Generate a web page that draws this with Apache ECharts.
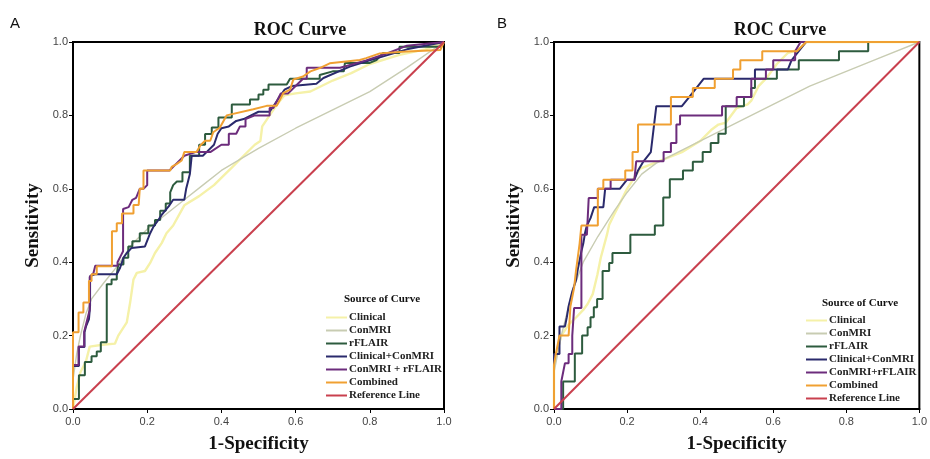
<!DOCTYPE html>
<html>
<head>
<meta charset="utf-8">
<script src="https://cdn.jsdelivr.net/npm/echarts@6/dist/echarts.min.js"></script>
<style>
  html, body { margin: 0; padding: 0; background: #fff; }
  #chart { width: 930px; height: 459px; }
</style>
</head>
<body>
<div id="chart"></div>
<script>
// series names, shared by both panels
var curveNames = ['Clinical', 'ConMRI', 'rFLAIR', 'Clinical+ConMRI', 'ConMRI+rFLAIR', 'Combined', 'Reference Line'];
var legendLabelsA = ['Clinical', 'ConMRI', 'rFLAIR', 'Clinical+ConMRI', 'ConMRI + rFLAIR', 'Combined', 'Reference Line'];
var curveColors = ['#f5f1a8', '#c8ccb2', '#2d5b3e', '#2a2a6c', '#6c2c7c', '#f0a032', '#c9404e'];
var curveWidths = [2.4, 1.4, 2, 2, 2, 2, 2];

/* ---- panel A : [1-specificity, sensitivity] ---- */
var aClinical = [[0,0],[0.01,0.06],[0.02,0.1],[0.035,0.13],[0.045,0.17],[0.08,0.175],[0.113,0.178],[0.122,0.2],[0.145,0.236],[0.154,0.29],[0.163,0.353],[0.172,0.371],[0.194,0.376],[0.208,0.398],[0.221,0.425],[0.239,0.452],[0.252,0.479],[0.27,0.5],[0.3,0.555],[0.34,0.58],[0.38,0.61],[0.41,0.64],[0.43,0.66],[0.46,0.69],[0.49,0.72],[0.505,0.73],[0.51,0.77],[0.53,0.8],[0.55,0.83],[0.57,0.855],[0.6,0.86],[0.64,0.865],[0.67,0.88],[0.7,0.895],[0.75,0.915],[0.8,0.94],[0.88,0.965],[0.95,0.98],[1,1]];
var aConMRI = [[0,0],[0,0.08],[0.01,0.15],[0.02,0.2],[0.035,0.26],[0.05,0.3],[0.08,0.34],[0.12,0.39],[0.16,0.45],[0.2,0.49],[0.25,0.53],[0.3,0.57],[0.35,0.61],[0.4,0.65],[0.5,0.71],[0.6,0.765],[0.7,0.815],[0.8,0.865],[0.9,0.93],[1,1]];
var aFlair = [[0,0],[0,0.027],[0.016,0.027],[0.016,0.092],[0.032,0.092],[0.032,0.128],[0.05,0.128],[0.05,0.144],[0.064,0.144],[0.064,0.157],[0.075,0.157],[0.075,0.182],[0.091,0.182],[0.091,0.34],[0.104,0.34],[0.104,0.353],[0.118,0.353],[0.118,0.367],[0.122,0.367],[0.122,0.394],[0.136,0.394],[0.136,0.412],[0.149,0.412],[0.149,0.443],[0.16,0.443],[0.16,0.457],[0.18,0.457],[0.18,0.479],[0.203,0.479],[0.203,0.5],[0.221,0.5],[0.221,0.515],[0.235,0.515],[0.235,0.54],[0.25,0.54],[0.25,0.56],[0.262,0.56],[0.262,0.59],[0.27,0.61],[0.28,0.62],[0.295,0.62],[0.295,0.645],[0.315,0.645],[0.315,0.69],[0.34,0.69],[0.34,0.72],[0.356,0.72],[0.356,0.749],[0.374,0.749],[0.374,0.767],[0.392,0.767],[0.392,0.794],[0.428,0.794],[0.428,0.83],[0.477,0.83],[0.477,0.843],[0.5,0.843],[0.5,0.857],[0.513,0.857],[0.513,0.87],[0.527,0.87],[0.527,0.884],[0.576,0.884],[0.585,0.9],[0.665,0.9],[0.665,0.91],[0.7,0.92],[0.73,0.92],[0.733,0.943],[0.8,0.943],[0.818,0.951],[0.836,0.97],[0.88,0.97],[0.88,0.987],[0.99,0.987],[1,1]];
var aClinConMRI = [[0,0],[0,0.117],[0.016,0.117],[0.016,0.169],[0.031,0.169],[0.031,0.209],[0.035,0.225],[0.043,0.245],[0.046,0.281],[0.046,0.362],[0.059,0.367],[0.118,0.367],[0.127,0.385],[0.136,0.412],[0.145,0.425],[0.158,0.439],[0.194,0.443],[0.203,0.466],[0.208,0.479],[0.217,0.497],[0.23,0.515],[0.239,0.529],[0.26,0.555],[0.27,0.57],[0.3,0.57],[0.305,0.6],[0.31,0.62],[0.315,0.64],[0.32,0.69],[0.35,0.69],[0.36,0.7],[0.38,0.72],[0.39,0.75],[0.4,0.765],[0.42,0.77],[0.44,0.785],[0.46,0.79],[0.48,0.8],[0.5,0.81],[0.53,0.81],[0.55,0.84],[0.57,0.87],[0.59,0.88],[0.656,0.886],[0.675,0.902],[0.746,0.933],[0.8,0.95],[0.85,0.965],[0.9,0.98],[1,1]];
var aConFlair = [[0,0],[0,0.12],[0.015,0.12],[0.015,0.17],[0.03,0.17],[0.03,0.21],[0.04,0.25],[0.045,0.27],[0.045,0.36],[0.055,0.37],[0.06,0.39],[0.12,0.39],[0.12,0.4],[0.13,0.42],[0.135,0.43],[0.135,0.545],[0.15,0.55],[0.16,0.57],[0.17,0.575],[0.18,0.6],[0.19,0.6],[0.2,0.61],[0.2,0.65],[0.26,0.65],[0.27,0.66],[0.28,0.67],[0.29,0.68],[0.3,0.69],[0.33,0.7],[0.37,0.7],[0.4,0.72],[0.42,0.72],[0.42,0.75],[0.44,0.75],[0.45,0.77],[0.465,0.77],[0.465,0.79],[0.49,0.8],[0.53,0.8],[0.53,0.82],[0.54,0.82],[0.55,0.84],[0.56,0.86],[0.58,0.86],[0.6,0.88],[0.62,0.9],[0.63,0.9],[0.63,0.93],[0.72,0.93],[0.79,0.95],[0.85,0.97],[0.9,0.99],[1,1]];
var aCombined = [[0,0],[0,0.209],[0.015,0.209],[0.015,0.263],[0.028,0.263],[0.028,0.29],[0.043,0.29],[0.043,0.349],[0.05,0.349],[0.05,0.367],[0.064,0.367],[0.064,0.389],[0.105,0.389],[0.105,0.484],[0.118,0.484],[0.118,0.506],[0.132,0.506],[0.132,0.533],[0.163,0.533],[0.163,0.556],[0.177,0.556],[0.18,0.6],[0.19,0.6],[0.19,0.65],[0.262,0.65],[0.266,0.66],[0.28,0.668],[0.293,0.677],[0.3,0.7],[0.333,0.7],[0.343,0.718],[0.356,0.731],[0.37,0.731],[0.378,0.754],[0.396,0.767],[0.414,0.8],[0.486,0.817],[0.522,0.826],[0.549,0.826],[0.558,0.843],[0.567,0.861],[0.585,0.87],[0.594,0.898],[0.62,0.906],[0.64,0.92],[0.665,0.929],[0.692,0.942],[0.773,0.951],[0.79,0.956],[0.827,0.969],[0.9,0.974],[0.99,0.978],[1,1]];

/* ---- panel B ---- */
var bClinical = [[0,0],[0,0.12],[0.003,0.133],[0.012,0.17],[0.02,0.2],[0.04,0.23],[0.061,0.25],[0.08,0.27],[0.092,0.286],[0.106,0.313],[0.119,0.367],[0.128,0.412],[0.145,0.475],[0.151,0.502],[0.164,0.529],[0.178,0.556],[0.2,0.6],[0.218,0.628],[0.236,0.655],[0.3,0.68],[0.35,0.7],[0.4,0.73],[0.43,0.76],[0.45,0.775],[0.47,0.78],[0.5,0.82],[0.53,0.83],[0.54,0.84],[0.56,0.88],[0.58,0.9],[0.61,0.94],[0.64,0.97],[0.67,0.98],[0.69,1],[1,1]];
var bConMRI = [[0,0],[0,0.1],[0.02,0.2],[0.05,0.32],[0.08,0.4],[0.12,0.47],[0.165,0.54],[0.2,0.59],[0.24,0.64],[0.28,0.67],[0.36,0.71],[0.48,0.77],[0.6,0.83],[0.7,0.88],[0.8,0.92],[0.9,0.96],[1,1]];
var bFlair = [[0,0],[0.025,0],[0.025,0.075],[0.057,0.075],[0.057,0.151],[0.077,0.151],[0.077,0.2],[0.092,0.2],[0.092,0.223],[0.1,0.223],[0.1,0.25],[0.109,0.25],[0.109,0.277],[0.118,0.277],[0.118,0.3],[0.133,0.3],[0.133,0.376],[0.151,0.376],[0.151,0.398],[0.16,0.398],[0.16,0.425],[0.209,0.425],[0.209,0.475],[0.276,0.475],[0.276,0.5],[0.299,0.5],[0.299,0.576],[0.317,0.576],[0.317,0.626],[0.353,0.626],[0.353,0.65],[0.38,0.65],[0.38,0.674],[0.407,0.674],[0.407,0.7],[0.429,0.7],[0.429,0.725],[0.45,0.725],[0.45,0.75],[0.47,0.75],[0.47,0.825],[0.52,0.825],[0.52,0.85],[0.54,0.85],[0.54,0.875],[0.55,0.875],[0.55,0.9],[0.61,0.9],[0.61,0.925],[0.67,0.925],[0.67,0.95],[0.78,0.95],[0.78,0.975],[0.86,0.975],[0.86,1],[1,1]];
var bClinConMRI = [[0,0],[0,0.15],[0.015,0.15],[0.015,0.225],[0.03,0.225],[0.035,0.25],[0.04,0.28],[0.05,0.32],[0.06,0.35],[0.065,0.38],[0.075,0.43],[0.08,0.45],[0.085,0.48],[0.09,0.5],[0.1,0.52],[0.105,0.525],[0.11,0.55],[0.135,0.55],[0.14,0.6],[0.18,0.6],[0.2,0.625],[0.22,0.625],[0.23,0.65],[0.245,0.675],[0.265,0.7],[0.28,0.825],[0.35,0.825],[0.37,0.85],[0.39,0.875],[0.41,0.9],[0.55,0.9],[0.55,0.925],[0.64,0.925],[0.65,0.95],[0.67,0.975],[0.69,1],[1,1]];
var bConFlair = [[0,0],[0.02,0],[0.02,0.075],[0.025,0.1],[0.03,0.125],[0.04,0.125],[0.04,0.15],[0.05,0.15],[0.05,0.2],[0.055,0.2],[0.055,0.275],[0.075,0.275],[0.075,0.475],[0.09,0.475],[0.095,0.575],[0.12,0.575],[0.12,0.6],[0.155,0.6],[0.155,0.625],[0.22,0.625],[0.225,0.675],[0.3,0.675],[0.3,0.7],[0.32,0.7],[0.32,0.725],[0.335,0.725],[0.335,0.775],[0.345,0.775],[0.345,0.8],[0.46,0.8],[0.46,0.825],[0.5,0.825],[0.5,0.85],[0.54,0.85],[0.54,0.9],[0.58,0.9],[0.58,0.925],[0.6,0.925],[0.6,0.95],[0.66,0.95],[0.66,0.975],[0.675,1],[1,1]];
var bCombined = [[0,0],[0,0.12],[0.005,0.15],[0.01,0.15],[0.015,0.2],[0.04,0.2],[0.045,0.28],[0.055,0.33],[0.06,0.375],[0.07,0.45],[0.075,0.5],[0.12,0.5],[0.12,0.6],[0.135,0.6],[0.135,0.625],[0.195,0.625],[0.195,0.65],[0.215,0.65],[0.215,0.7],[0.23,0.7],[0.23,0.775],[0.32,0.775],[0.32,0.85],[0.38,0.85],[0.38,0.875],[0.44,0.875],[0.44,0.9],[0.49,0.9],[0.49,0.925],[0.51,0.925],[0.51,0.95],[0.57,0.95],[0.57,0.975],[0.665,0.975],[0.69,1],[1,1]];

var referenceLine = [[0,0],[1,1]];

var panelA = [aClinical, aConMRI, aFlair, aClinConMRI, aConFlair, aCombined, referenceLine];
var panelB = [bClinical, bConMRI, bFlair, bClinConMRI, bConFlair, bCombined, referenceLine];

var serif = 'Liberation Serif';
var sans = 'Liberation Sans';

var chart = echarts.init(document.getElementById('chart'));

function axisPair(idx) {
    var common = {
        type: 'value', min: 0, max: 1, interval: 0.2,
        gridIndex: idx,
        nameLocation: 'middle',
        nameTextStyle: { fontFamily: serif, fontWeight: 'bold', fontSize: 19, color: '#111' },
        axisLine: { show: true, lineStyle: { color: '#000', width: 2 } },
        axisTick: { show: true, length: 4, lineStyle: { color: '#000', width: 1 } },
        axisLabel: { fontFamily: sans, fontSize: 11, color: '#444', formatter: function (v) { return v.toFixed(1); } },
        splitLine: { show: false }
    };
    var x = Object.assign({}, common, { name: '1-Specificity', nameGap: 26 });
    x.axisLabel = Object.assign({}, common.axisLabel, { margin: 7 });
    var y = Object.assign({}, common, { name: 'Sensitivity', nameGap: 30 });
    y.axisLabel = Object.assign({}, common.axisLabel, { margin: 5 });
    return [x, y];
}

var axA = axisPair(0), axB = axisPair(1);

var series = [];
[panelA, panelB].forEach(function (panel, p) {
    panel.forEach(function (pts, i) {
        series.push({
            type: 'line',
            name: curveNames[i],
            xAxisIndex: p,
            yAxisIndex: p,
            data: pts,
            symbol: 'none',
            showSymbol: false,
            silent: true,
            z: 2 + i,
            lineStyle: { color: curveColors[i], width: curveWidths[i] },
            itemStyle: { color: curveColors[i] }
        });
    });
});

function legendAt(left, top, labels) {
    return {
        orient: 'vertical',
        left: left, top: top,
        padding: 0,
        itemGap: 0,
        itemWidth: 21,
        itemHeight: 2,
        icon: 'rect',
        selectedMode: false,
        data: curveNames,
        formatter: function (n) { return labels[curveNames.indexOf(n)]; },
        textStyle: { fontFamily: serif, fontWeight: 'bold', fontSize: 11, color: '#222', lineHeight: 13, padding: [0, 0, 0, -3] }
    };
}

function label(text, x, y, size, bold, family, align) {
    return {
        type: 'text', x: x, y: y, silent: true,
        style: {
            text: text, fill: '#111', align: align || 'center', verticalAlign: 'middle',
            font: (bold ? 'bold ' : '') + size + 'px "' + family + '"'
        }
    };
}

chart.setOption({
    animation: false,
    backgroundColor: '#fff',
    grid: [
        { left: 73, top: 42, width: 371, height: 370, show: true, borderColor: '#000', borderWidth: 2 },
        { left: 554, top: 42, width: 371, height: 370, show: true, borderColor: '#000', borderWidth: 2 }
    ],
    xAxis: [axA[0], axB[0]],
    yAxis: [axA[1], axB[1]],
    legend: [
        legendAt(326, 311, legendLabelsA),
        legendAt(806, 314, curveNames)
    ],
    graphic: [
        label('A', 10, 24, 15, false, sans, 'left'),
        label('B', 497, 24, 15, false, sans, 'left'),
        label('ROC Curve', 300, 30, 18, true, serif),
        label('ROC Curve', 780, 30, 18, true, serif),
        label('Source of Curve', 382, 299, 11, true, serif),
        label('Source of Curve', 860, 303, 11, true, serif)
    ],
    series: series
});
</script>
</body>
</html>
